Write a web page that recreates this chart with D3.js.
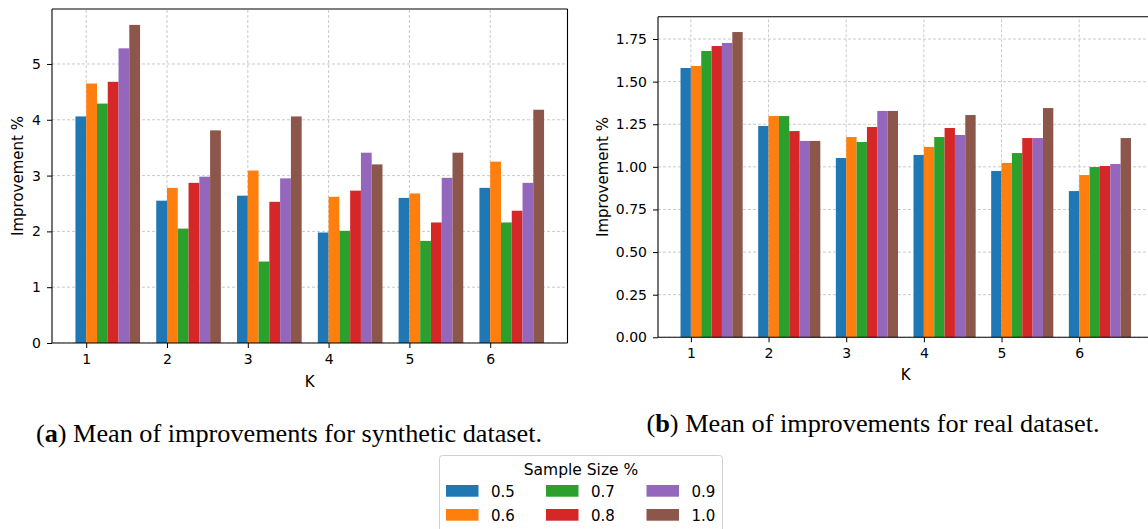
<!DOCTYPE html>
<html>
<head>
<meta charset="utf-8">
<script src="https://cdn.jsdelivr.net/npm/d3@7"></script>
<style>
  html, body { margin: 0; padding: 0; background: #fff; }
  svg { display: block; font-family: "DejaVu Sans", sans-serif; }
</style>
</head>
<body>
<svg id="chart" width="1148" height="529"></svg>
<script>
// ---------- data ----------
const kValues = [1, 2, 3, 4, 5, 6];
const sampleSizes = ["0.5", "0.6", "0.7", "0.8", "0.9", "1.0"];
const colors = ["#1f77b4", "#ff7f0e", "#2ca02c", "#d62728", "#9467bd", "#8c564b"];

// synthetic dataset: one array per sample size, over K = 1..6
const synth05 = [4.06, 2.55, 2.64, 1.98, 2.60, 2.78];
const synth06 = [4.65, 2.78, 3.09, 2.62, 2.68, 3.25];
const synth07 = [4.29, 2.05, 1.46, 2.01, 1.83, 2.16];
const synth08 = [4.68, 2.87, 2.53, 2.73, 2.16, 2.37];
const synth09 = [5.28, 2.98, 2.95, 3.41, 2.96, 2.87];
const synth10 = [5.70, 3.81, 4.06, 3.20, 3.41, 4.18];

// real dataset
const real05 = [1.580, 1.240, 1.052, 1.070, 0.976, 0.858];
const real06 = [1.592, 1.298, 1.175, 1.117, 1.023, 0.952];
const real07 = [1.680, 1.298, 1.146, 1.175, 1.081, 0.999];
const real08 = [1.709, 1.210, 1.234, 1.228, 1.169, 1.005];
const real09 = [1.727, 1.152, 1.328, 1.187, 1.169, 1.017];
const real10 = [1.791, 1.152, 1.328, 1.304, 1.345, 1.169];

const synthTicks = [0, 1, 2, 3, 4, 5];
const realTicks = [0, 0.25, 0.5, 0.75, 1.0, 1.25, 1.5, 1.75];

const synthSeries = [synth05, synth06, synth07, synth08, synth09, synth10];
const realSeries = [real05, real06, real07, real08, real09, real10];

const captionA = ["a", " Mean of improvements for synthetic dataset."];
const captionB = ["b", " Mean of improvements for real dataset."];
const legendTitle = "Sample Size %";

// ---------- drawing ----------
const svg = d3.select("#chart");
const barW = 0.8 / sampleSizes.length;
const xDomain = [1 - barW - 0.29, 6 + 5 * barW + 0.29];

function panel(opts) {
  const { series, ticks, yMax, x0, x1, y0, y1, tickFmt, ylabelX, klabelY, rightSpine } = opts;
  const x = d3.scaleLinear().domain(xDomain).range([x0, x1]);
  const y = d3.scaleLinear().domain([0, yMax]).range([y0, y1]);
  const g = svg.append("g");

  const clipId = "clip" + Math.round(x0);
  svg.append("clipPath").attr("id", clipId)
    .append("rect").attr("x", x0).attr("y", y1).attr("width", x1 - x0).attr("height", y0 - y1);

  const grid = g.append("g").attr("clip-path", `url(#${clipId})`);
  grid.selectAll("line.gy").data(ticks).join("line")
    .attr("x1", x0).attr("x2", x1)
    .attr("y1", d => y(d)).attr("y2", d => y(d))
    .attr("stroke", "#c4c4c4").attr("stroke-width", 0.9).attr("stroke-dasharray", "3,2");
  grid.selectAll("line.gx").data(kValues).join("line")
    .attr("x1", d => x(d)).attr("x2", d => x(d))
    .attr("y1", y0).attr("y2", y1)
    .attr("stroke", "#c4c4c4").attr("stroke-width", 0.9).attr("stroke-dasharray", "3,2");

  series.forEach((vals, i) => {
    g.append("g").selectAll("rect").data(vals).join("rect")
      .attr("x", (d, j) => x(kValues[j] + (i - 1) * barW))
      .attr("width", x(barW) - x(0))
      .attr("y", d => y(d))
      .attr("height", d => y(0) - y(d))
      .attr("fill", colors[i]);
  });

  const xAxis = d3.axisBottom(x).tickValues(kValues).tickSize(5).tickPadding(6).tickFormat(d3.format("d"));
  const yAxis = d3.axisLeft(y).tickValues(ticks).tickSize(5).tickPadding(6).tickFormat(tickFmt);
  const gx = g.append("g").attr("transform", `translate(0,${y0})`).call(xAxis);
  const gy = g.append("g").attr("transform", `translate(${x0},0)`).call(yAxis);
  [gx, gy].forEach(a => {
    a.attr("font-family", null).attr("font-size", null);
    a.select(".domain").remove();
    a.selectAll("line").attr("stroke", "#000").attr("stroke-width", 1);
    a.selectAll("text").style("font-size", "14px").style("font-family", "'DejaVu Sans', sans-serif").attr("fill", "#000");
  });

  const sp = g.append("g").attr("fill", "none").attr("stroke", "#000").attr("stroke-width", 1.1);
  sp.append("line").attr("x1", x0).attr("x2", x0).attr("y1", y0).attr("y2", y1);
  sp.append("line").attr("x1", x0).attr("x2", x1).attr("y1", y0).attr("y2", y0);
  sp.append("line").attr("x1", x0).attr("x2", x1).attr("y1", y1).attr("y2", y1);
  if (rightSpine) sp.append("line").attr("x1", x1).attr("x2", x1).attr("y1", y0).attr("y2", y1);

  g.append("text").attr("x", (x0 + x1) / 2).attr("y", klabelY)
    .attr("text-anchor", "middle").style("font-size", "15px").text("K");
  g.append("text")
    .attr("transform", `translate(${ylabelX},${(y0 + y1) / 2}) rotate(-90)`)
    .attr("text-anchor", "middle").style("font-size", "15px").text("Improvement %");
}

panel({
  series: synthSeries, ticks: synthTicks, yMax: 5.985,
  x0: 52, x1: 567.5, y0: 343, y1: 9,
  tickFmt: d3.format("d"), ylabelX: 23, klabelY: 387, rightSpine: true
});
panel({
  series: realSeries, ticks: realTicks, yMax: 1.881,
  x0: 658, x1: 1153.5, y0: 337.3, y1: 16.7,
  tickFmt: d3.format(".2f"), ylabelX: 608, klabelY: 380, rightSpine: true
});

function caption(parts, xStart, baseline, len) {
  const t = svg.append("text").attr("x", xStart).attr("y", baseline)
    .style("font-family", "'Liberation Serif', 'Times New Roman', serif").style("font-size", "25px")
    .attr("textLength", len).attr("lengthAdjust", "spacingAndGlyphs");
  t.append("tspan").text("(");
  t.append("tspan").style("font-weight", "bold").text(parts[0]);
  t.append("tspan").text(")" + parts[1]);
}
caption(captionA, 36, 441.5, 506);
caption(captionB, 646.5, 431.5, 453);

const lg = svg.append("g");
lg.append("rect").attr("x", 439.5).attr("y", 455.5).attr("width", 283).attr("height", 90)
  .attr("rx", 3).attr("fill", "#fff").attr("stroke", "#d0d0d0").attr("stroke-width", 1);
lg.append("text").attr("x", 581).attr("y", 475).attr("text-anchor", "middle")
  .style("font-size", "15.5px").text(legendTitle);
const colX = [446, 546, 646.5];
const rowY = [485, 509];
sampleSizes.forEach((s, i) => {
  const c = Math.floor(i / 2), r = i % 2;
  lg.append("rect").attr("x", colX[c]).attr("y", rowY[r]).attr("width", 32.5).attr("height", 11.7)
    .attr("fill", colors[i]);
  lg.append("text").attr("x", colX[c] + 45).attr("y", rowY[r] + 11.7)
    .style("font-size", "15px").text(s);
});
</script>
</body>
</html>
